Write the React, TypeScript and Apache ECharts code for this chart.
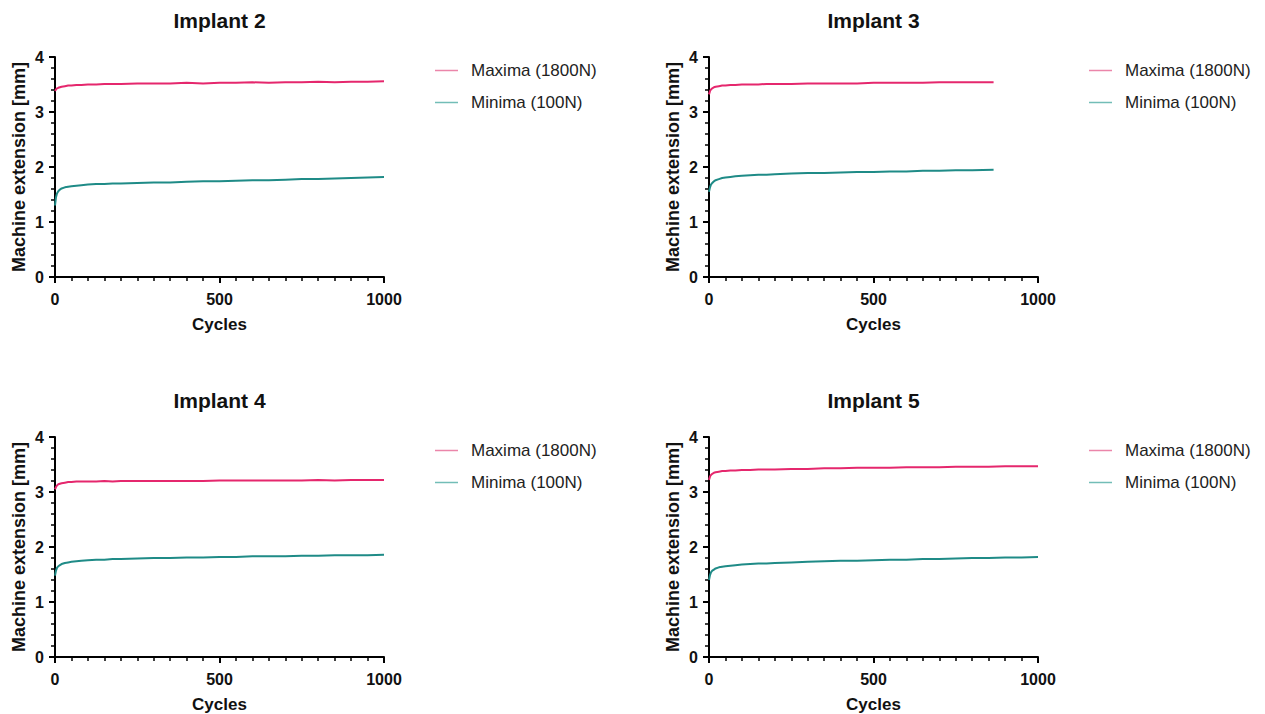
import React, { useEffect, useRef } from "react";
import * as echarts from "echarts";

const titles = ["Implant 2", "Implant 3", "Implant 4", "Implant 5"];
const seriesNames = ["Maxima (1800N)", "Minima (100N)"];
const xTicks = [0, 500, 1000];
const yTicks = [0, 1, 2, 3, 4];

const cyclesFull = [0, 3, 6, 10, 15, 20, 30, 40, 50, 65, 80, 100, 125, 150, 175, 200, 250, 300, 350, 400, 450, 500, 550, 600, 650, 700, 750, 800, 850, 900, 950, 1000];
const cyclesImplant3 = [0, 3, 6, 10, 15, 20, 30, 40, 50, 65, 80, 100, 125, 150, 175, 200, 250, 300, 350, 400, 450, 500, 550, 600, 650, 700, 750, 800, 865];

const implant2Max = [3.38, 3.41, 3.43, 3.44, 3.45, 3.46, 3.47, 3.48, 3.48, 3.49, 3.49, 3.50, 3.50, 3.51, 3.51, 3.51, 3.52, 3.52, 3.52, 3.53, 3.52, 3.53, 3.53, 3.54, 3.53, 3.54, 3.54, 3.55, 3.54, 3.55, 3.55, 3.56];
const implant2Min = [1.30, 1.45, 1.52, 1.56, 1.59, 1.61, 1.63, 1.64, 1.65, 1.66, 1.67, 1.68, 1.69, 1.69, 1.70, 1.70, 1.71, 1.72, 1.72, 1.73, 1.74, 1.74, 1.75, 1.76, 1.76, 1.77, 1.78, 1.78, 1.79, 1.80, 1.81, 1.82];

const implant3Max = [3.32, 3.38, 3.41, 3.43, 3.45, 3.46, 3.47, 3.48, 3.48, 3.49, 3.49, 3.50, 3.50, 3.50, 3.51, 3.51, 3.51, 3.52, 3.52, 3.52, 3.52, 3.53, 3.53, 3.53, 3.53, 3.54, 3.54, 3.54, 3.54];
const implant3Min = [1.55, 1.63, 1.68, 1.71, 1.74, 1.76, 1.78, 1.80, 1.81, 1.82, 1.83, 1.84, 1.85, 1.86, 1.86, 1.87, 1.88, 1.89, 1.89, 1.90, 1.91, 1.91, 1.92, 1.92, 1.93, 1.93, 1.94, 1.94, 1.95];

const implant4Max = [3.05, 3.09, 3.12, 3.14, 3.15, 3.16, 3.17, 3.18, 3.18, 3.19, 3.19, 3.19, 3.19, 3.20, 3.19, 3.20, 3.20, 3.20, 3.20, 3.20, 3.20, 3.21, 3.21, 3.21, 3.21, 3.21, 3.21, 3.22, 3.21, 3.22, 3.22, 3.22];
const implant4Min = [1.48, 1.57, 1.62, 1.65, 1.67, 1.69, 1.71, 1.72, 1.73, 1.74, 1.75, 1.76, 1.77, 1.77, 1.78, 1.78, 1.79, 1.80, 1.80, 1.81, 1.81, 1.82, 1.82, 1.83, 1.83, 1.83, 1.84, 1.84, 1.85, 1.85, 1.85, 1.86];

const implant5Max = [3.22, 3.28, 3.31, 3.33, 3.35, 3.36, 3.37, 3.38, 3.38, 3.39, 3.39, 3.40, 3.40, 3.41, 3.41, 3.41, 3.42, 3.42, 3.43, 3.43, 3.44, 3.44, 3.44, 3.45, 3.45, 3.45, 3.46, 3.46, 3.46, 3.47, 3.47, 3.47];
const implant5Min = [1.40, 1.49, 1.54, 1.57, 1.59, 1.61, 1.63, 1.64, 1.65, 1.66, 1.67, 1.68, 1.69, 1.70, 1.70, 1.71, 1.72, 1.73, 1.74, 1.75, 1.75, 1.76, 1.77, 1.77, 1.78, 1.78, 1.79, 1.80, 1.80, 1.81, 1.81, 1.82];

const panelCycles = [cyclesFull, cyclesImplant3, cyclesFull, cyclesFull];
const panelMax = [implant2Max, implant3Max, implant4Max, implant5Max];
const panelMin = [implant2Min, implant3Min, implant4Min, implant5Min];

const FONT = "'Liberation Sans', Arial, Helvetica, sans-serif";
const MAX_COLOR = "#e5276d";
const MIN_COLOR = "#1f8b87";
const MAX_LEGEND = "#eb86aa";
const MIN_LEGEND = "#72bdb7";

const layout = [
  { left: 55, top: 57 },
  { left: 709, top: 57 },
  { left: 55, top: 437 },
  { left: 709, top: 437 },
];
const PW = 329;
const PH = 220;

export default function App() {
  const ref = useRef<HTMLDivElement>(null);
  useEffect(() => {
    if (!ref.current) return;
    const chart = echarts.init(ref.current, undefined, { renderer: "svg" });
    const grid: any[] = [];
    const xAxis: any[] = [];
    const yAxis: any[] = [];
    const title: any[] = [];
    const legend: any[] = [];
    const series: any[] = [];
    layout.forEach((p, i) => {
      grid.push({ left: p.left, top: p.top, width: PW, height: PH, containLabel: false });
      xAxis.push({
        type: "value",
        gridIndex: i,
        min: xTicks[0],
        max: xTicks[xTicks.length - 1],
        interval: 500,
        name: "Cycles",
        nameLocation: "middle",
        nameGap: 39,
        nameTextStyle: { fontFamily: FONT, fontWeight: "bold", fontSize: 17, color: "#111" },
        axisLine: { show: true, onZero: false, lineStyle: { color: "#000", width: 2 } },
        axisTick: { show: true, length: 6, lineStyle: { color: "#000", width: 2 } },
        minorTick: { show: true, splitNumber: 10, length: 4, lineStyle: { color: "#000", width: 1.5 } },
        axisLabel: {
          fontFamily: FONT,
          fontWeight: "bold",
          fontSize: 16,
          color: "#111",
          margin: 14,
          formatter: (v: number) => String(v),
        },
        splitLine: { show: false },
        minorSplitLine: { show: false },
      });
      yAxis.push({
        type: "value",
        gridIndex: i,
        min: yTicks[0],
        max: yTicks[yTicks.length - 1],
        interval: 1,
        name: "Machine extension [mm]",
        nameLocation: "middle",
        nameGap: 27,
        nameTextStyle: { fontFamily: FONT, fontWeight: "bold", fontSize: 18, color: "#111" },
        axisLine: { show: true, onZero: false, lineStyle: { color: "#000", width: 2 } },
        axisTick: { show: true, length: 6, lineStyle: { color: "#000", width: 2 } },
        minorTick: { show: true, splitNumber: 5, length: 4, lineStyle: { color: "#000", width: 1.5 } },
        axisLabel: { fontFamily: FONT, fontWeight: "bold", fontSize: 16, color: "#111", margin: 11 },
        splitLine: { show: false },
        minorSplitLine: { show: false },
      });
      title.push({
        text: titles[i],
        left: p.left + PW / 2,
        top: p.top - 47,
        textAlign: "center",
        padding: 0,
        textStyle: { fontFamily: FONT, fontWeight: "bold", fontSize: 21, color: "#111" },
      });
      legend.push({
        left: p.left + 380,
        top: p.top + 5,
        padding: 0,
        orient: "vertical",
        itemWidth: 23,
        itemHeight: 1.5,
        itemGap: 15,
        selectedMode: false,
        textStyle: { fontFamily: FONT, fontSize: 17, color: "#222", padding: [0, 0, 0, 8] },
        data: [
          { name: seriesNames[0], icon: "rect", itemStyle: { color: MAX_LEGEND } },
          { name: seriesNames[1], icon: "rect", itemStyle: { color: MIN_LEGEND } },
        ],
      });
      const cyc = panelCycles[i];
      series.push({
        type: "line",
        name: seriesNames[0],
        xAxisIndex: i,
        yAxisIndex: i,
        symbol: "none",
        lineStyle: { color: MAX_COLOR, width: 2 },
        itemStyle: { color: MAX_COLOR },
        data: cyc.map((c, k) => [c, panelMax[i][k]]),
      });
      series.push({
        type: "line",
        name: seriesNames[1],
        xAxisIndex: i,
        yAxisIndex: i,
        symbol: "none",
        lineStyle: { color: MIN_COLOR, width: 2 },
        itemStyle: { color: MIN_COLOR },
        data: cyc.map((c, k) => [c, panelMin[i][k]]),
      });
    });
    chart.setOption({
      animation: false,
      backgroundColor: "#ffffff",
      grid,
      xAxis,
      yAxis,
      title,
      legend,
      series,
    });
    return () => chart.dispose();
  }, []);
  return (
    <div
      ref={ref}
      style={{ position: "fixed", left: 0, top: 0, width: 1265, height: 714, background: "#fff" }}
    />
  );
}
